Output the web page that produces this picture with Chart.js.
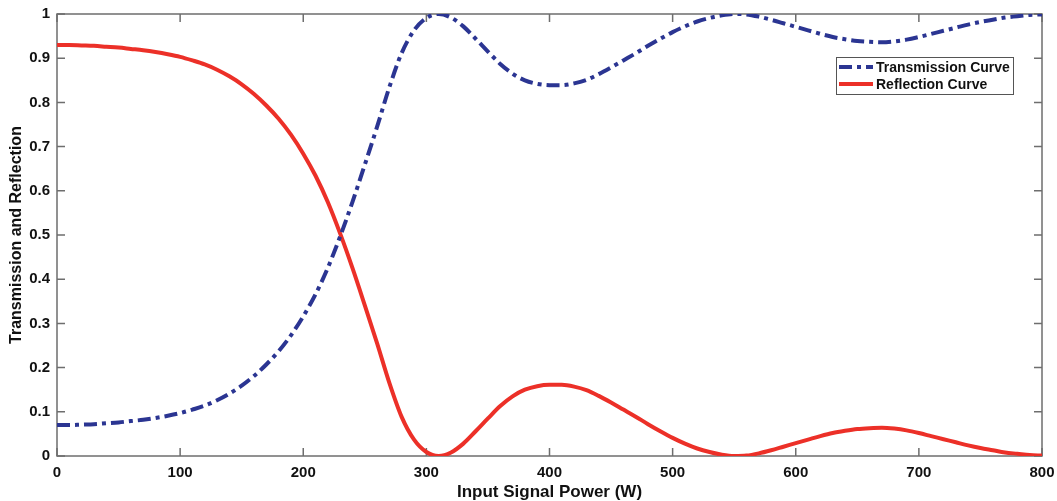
<!DOCTYPE html>
<html>
<head>
<meta charset="utf-8">
<title>Transmission and Reflection</title>
<script src="https://cdn.jsdelivr.net/npm/chart.js@4.4.0/dist/chart.umd.min.js"></script>
<style>
  html, body { margin: 0; padding: 0; background: #fff; }
</style>
</head>
<body>
<canvas id="chart" width="1057" height="501"></canvas>
<script>
// input signal power (W)
const power = [0, 10, 20, 30, 40, 50, 60, 70, 80, 90,
  100, 110, 120, 130, 140, 150, 160, 170, 180, 190,
  200, 210, 220, 230, 240, 250, 260, 270, 280, 290,
  300, 310, 320, 330, 340, 350, 360, 370, 380, 390,
  400, 410, 420, 430, 440, 450, 460, 470, 480, 490,
  500, 510, 520, 530, 540, 550, 560, 570, 580, 590,
  600, 610, 620, 630, 640, 650, 660, 670, 680, 690,
  700, 710, 720, 730, 740, 750, 760, 770, 780, 790,
  800];

const transmission = [0.070, 0.070, 0.071, 0.072, 0.074, 0.076, 0.079, 0.082, 0.086, 0.091,
  0.097, 0.105, 0.114, 0.126, 0.141, 0.159, 0.181, 0.207, 0.237, 0.273,
  0.316, 0.366, 0.426, 0.497, 0.575, 0.659, 0.745, 0.835, 0.912, 0.963,
  0.991, 1.000, 0.992, 0.972, 0.944, 0.915, 0.887, 0.865, 0.850, 0.842,
  0.839, 0.839, 0.843, 0.851, 0.864, 0.879, 0.895, 0.911, 0.928, 0.944,
  0.959, 0.972, 0.983, 0.991, 0.997, 1.000, 0.999, 0.994, 0.987, 0.979,
  0.971, 0.963, 0.955, 0.948, 0.943, 0.939, 0.937, 0.936, 0.938, 0.942,
  0.948, 0.955, 0.962, 0.969, 0.976, 0.982, 0.987, 0.992, 0.995, 0.998,
  0.999];

const reflection = [0.930, 0.930, 0.929, 0.928, 0.926, 0.924, 0.921, 0.918, 0.914, 0.909,
  0.903, 0.895, 0.886, 0.874, 0.859, 0.841, 0.819, 0.793, 0.763, 0.727,
  0.684, 0.634, 0.574, 0.503, 0.425, 0.341, 0.255, 0.165, 0.088, 0.037,
  0.009, 0.000, 0.008, 0.028, 0.056, 0.085, 0.113, 0.135, 0.150, 0.158,
  0.161, 0.161, 0.157, 0.149, 0.136, 0.121, 0.105, 0.089, 0.072, 0.056,
  0.041, 0.028, 0.017, 0.009, 0.003, 0.000, 0.001, 0.006, 0.013, 0.021,
  0.029, 0.037, 0.045, 0.052, 0.057, 0.061, 0.063, 0.064, 0.062, 0.058,
  0.052, 0.045, 0.038, 0.031, 0.024, 0.018, 0.013, 0.008, 0.005, 0.002,
  0.001];

const xTicks = [0, 100, 200, 300, 400, 500, 600, 700, 800];
const yTicks = [0, 0.1, 0.2, 0.3, 0.4, 0.5, 0.6, 0.7, 0.8, 0.9, 1];

const seriesNames = ['Transmission Curve', 'Reflection Curve'];
const blue = '#2b3592';
const red = '#ec3028';
const axisGrey = '#6e6e6e';
const fontFamily = '"Liberation Sans", Arial, sans-serif';

function toPoints(ys) {
  return power.map((p, i) => ({ x: p, y: ys[i] }));
}

// MATLAB-like box with inward ticks on all four sides
const frameTicks = {
  id: 'frameTicks',
  beforeDatasetsDraw(chart) {
    const { ctx, chartArea: a, scales: { x, y } } = chart;
    const len = 8;
    ctx.save();
    ctx.strokeStyle = axisGrey;
    ctx.lineWidth = 1.5;
    ctx.strokeRect(a.left, a.top, a.right - a.left, a.bottom - a.top);
    ctx.beginPath();
    xTicks.forEach(v => {
      const px = x.getPixelForValue(v);
      ctx.moveTo(px, a.bottom); ctx.lineTo(px, a.bottom - len);
      ctx.moveTo(px, a.top); ctx.lineTo(px, a.top + len);
    });
    yTicks.forEach(v => {
      const py = y.getPixelForValue(v);
      ctx.moveTo(a.left, py); ctx.lineTo(a.left + len, py);
      ctx.moveTo(a.right, py); ctx.lineTo(a.right - len, py);
    });
    ctx.stroke();
    ctx.restore();
  },
  afterDraw(chart) {
    // legend box in the upper right of the plot
    const { ctx, chartArea: a } = chart;
    const left = a.right - 206, top = a.top + 43;
    const w = 177, h = 37;
    ctx.save();
    ctx.fillStyle = '#fff';
    ctx.fillRect(left, top, w, h);
    ctx.strokeStyle = '#555';
    ctx.lineWidth = 1;
    ctx.strokeRect(left + 0.5, top + 0.5, w, h);
    ctx.font = 'bold 14px ' + fontFamily;
    ctx.textBaseline = 'middle';
    chart.data.datasets.forEach((ds, i) => {
      const cy = top + 10 + i * 17;
      ctx.strokeStyle = ds.borderColor;
      ctx.lineWidth = 4;
      ctx.setLineDash(ds.borderDash || []);
      ctx.beginPath();
      ctx.moveTo(left + 3, cy);
      ctx.lineTo(left + 37, cy);
      ctx.stroke();
      ctx.setLineDash([]);
      ctx.fillStyle = '#111';
      ctx.fillText(ds.label, left + 40, cy + 1);
    });
    ctx.restore();
  }
};

const ctx = document.getElementById('chart').getContext('2d');
new Chart(ctx, {
  type: 'line',
  data: {
    datasets: [{
      label: seriesNames[0],
      data: toPoints(transmission),
      borderColor: blue,
      borderWidth: 4,
      borderDash: [13, 5, 4, 5],
      pointRadius: 0,
      cubicInterpolationMode: 'monotone',
      fill: false
    }, {
      label: seriesNames[1],
      data: toPoints(reflection),
      borderColor: red,
      borderWidth: 4,
      pointRadius: 0,
      cubicInterpolationMode: 'monotone',
      fill: false
    }]
  },
  options: {
    responsive: false,
    animation: false,
    layout: { padding: { top: 14, right: 15, left: 0, bottom: 0 } },
    plugins: {
      legend: { display: false },
      tooltip: { enabled: false }
    },
    scales: {
      x: {
        type: 'linear',
        min: 0,
        max: 800,
        afterBuildTicks: scale => { scale.ticks = xTicks.map(v => ({ value: v })); },
        afterFit: scale => {
          scale.height = 45;
          scale.paddingLeft = 0;
          scale.paddingRight = 0;
        },
        grid: { display: false, drawTicks: false },
        border: { display: false },
        ticks: {
          padding: 8,
          color: '#111',
          maxRotation: 0,
          font: { family: fontFamily, size: 15, weight: 'bold' }
        },
        title: {
          display: true,
          text: 'Input Signal Power (W)',
          color: '#111',
          padding: { top: 0, bottom: -2 },
          font: { family: fontFamily, size: 17, weight: 'bold' }
        }
      },
      y: {
        min: 0,
        max: 1,
        afterBuildTicks: scale => { scale.ticks = yTicks.map(v => ({ value: v })); },
        afterFit: scale => {
          scale.width = 57;
          scale.paddingTop = 0;
          scale.paddingBottom = 0;
        },
        grid: { display: false, drawTicks: false },
        border: { display: false },
        ticks: {
          padding: 7,
          color: '#111',
          font: { family: fontFamily, size: 15, weight: 'bold' },
          callback: v => String(Number(v.toFixed(1)))
        },
        title: {
          display: true,
          text: 'Transmission and Reflection',
          color: '#111',
          padding: { top: 7, bottom: 0 },
          font: { family: fontFamily, size: 16, weight: 'bold' }
        }
      }
    }
  },
  plugins: [frameTicks]
});
</script>
</body>
</html>
